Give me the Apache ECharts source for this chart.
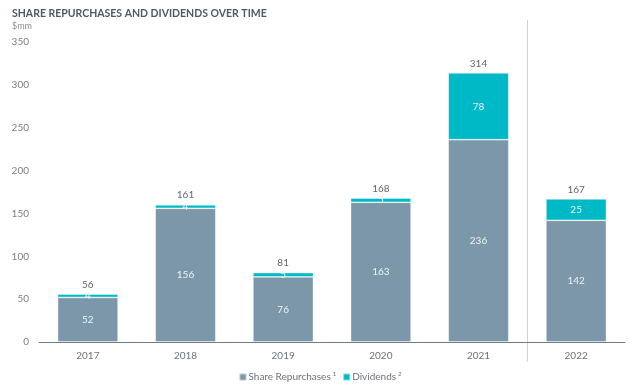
<!DOCTYPE html>
<html>
<head>
<meta charset="utf-8">
<script src="https://cdn.jsdelivr.net/npm/echarts@6/dist/echarts.min.js"></script>
<style>
html,body{margin:0;padding:0;background:#fff;}
#chart{width:640px;height:387px;}
</style>
</head>
<body>
<div id="chart"></div>
<script>
var categories = ['2017', '2018', '2019', '2020', '2021', '2022'];
var repurchases = [52, 156, 76, 163, 236, 142];
var dividends = [4, 4, 5, 5, 78, 25];
var totals = [56, 161, 81, 168, 314, 167];
var yTicks = [0, 50, 100, 150, 200, 250, 300, 350];
var dividerBetween = ['2021', '2022'];
var superscripts = {'Share Repurchases': '1', 'Dividends': '2'};

var chart = echarts.init(document.getElementById('chart'), null, {renderer: 'canvas'});
var font = 'Lato, "Open Sans", sans-serif';
chart.setOption({
  animation: false,
  textStyle: {fontFamily: font},
  title: [{
    text: 'SHARE REPURCHASES AND DIVIDENDS OVER TIME',
    left: 7, top: 3,
    textStyle: {fontFamily: font, fontSize: 10.5, fontWeight: 'bold', color: '#4d5a66'}
  }, {
    text: '$mm',
    left: 7, top: 17,
    textStyle: {fontFamily: font, fontSize: 9, fontWeight: 'normal', color: '#8a8f94'}
  }],
  legend: {
    bottom: 0, left: 'center',
    itemWidth: 7, itemHeight: 7, itemGap: 6,
    icon: 'rect',
    data: ['Share Repurchases', 'Dividends'],
    formatter: function (name) { return name + '{sup|' + superscripts[name] + '}'; },
    textStyle: {
      fontFamily: font, fontSize: 10, color: '#6b737a', padding: [0, 0, 0, -3],
      rich: {sup: {fontSize: 6, verticalAlign: 'top', padding: [0, 0, 6, 2], color: '#6b737a'}}
    }
  },
  grid: {left: 39, right: 15, top: 42, bottom: 45, containLabel: false},
  xAxis: {
    type: 'category',
    data: categories,
    axisLine: {lineStyle: {color: '#6f7a84', width: 1}},
    axisTick: {show: false},
    axisLabel: {color: '#6b737a', fontSize: 10, margin: 9, fontFamily: font}
  },
  yAxis: {
    type: 'value',
    min: yTicks[0], max: yTicks[yTicks.length - 1], interval: 50,
    axisLine: {show: false},
    axisTick: {show: false},
    splitLine: {show: false},
    axisLabel: {color: '#7a8086', fontSize: 10, margin: 10, fontFamily: font}
  },
  series: [{
    name: 'Share Repurchases',
    type: 'bar',
    stack: 'total',
    barWidth: '62%',
    data: repurchases,
    itemStyle: {color: '#7b97a9', borderColor: 'rgba(255,255,255,0.5)', borderWidth: 0.8},
    label: {show: true, position: 'inside', color: '#eef2f5', fontSize: 10, fontFamily: font}
  }, {
    name: 'Dividends',
    type: 'bar',
    stack: 'total',
    barWidth: '62%',
    data: dividends,
    z: 3,
    itemStyle: {color: '#00b9c6', borderColor: 'rgba(255,255,255,0.5)', borderWidth: 0.8},
    label: {show: true, position: 'inside', color: '#eef2f5', fontSize: 10, fontFamily: font, overflow: 'none'}
  }, {
    name: 'Total',
    type: 'line',
    data: totals,
    symbol: 'circle',
    symbolSize: 1,
    itemStyle: {color: 'rgba(0,0,0,0)'},
    lineStyle: {opacity: 0},
    silent: true,
    label: {show: true, position: 'top', distance: 4, color: '#5f666d', fontSize: 10, fontFamily: font}
  }]
});

// divider between 2021 and 2022, position taken from the category axis scale
var xa = chart.convertToPixel({xAxisIndex: 0}, dividerBetween[0]);
var xb = chart.convertToPixel({xAxisIndex: 0}, dividerBetween[1]);
var xDiv = Math.round((xa + xb) / 2) + 0.5;
var yTop = chart.convertToPixel({yAxisIndex: 0}, 376);
var yBot = chart.convertToPixel({yAxisIndex: 0}, -23);
chart.setOption({
  graphic: [{
    type: 'line',
    silent: true,
    z: 0,
    shape: {x1: xDiv, y1: yTop, x2: xDiv, y2: yBot},
    style: {stroke: '#c9d4dc', lineWidth: 1}
  }]
});
</script>
</body>
</html>
